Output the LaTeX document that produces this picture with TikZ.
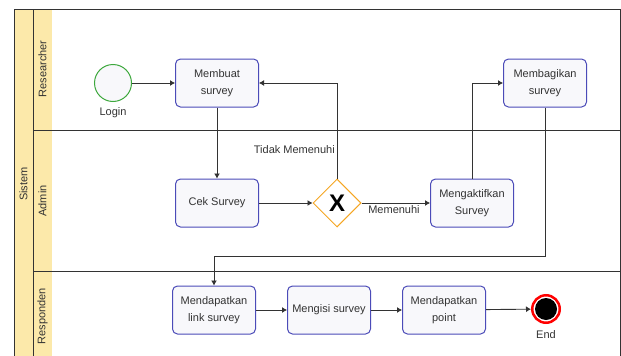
\documentclass[tikz,border=0pt]{standalone}
\usepackage{fontspec}
\setmainfont{Liberation Sans}
\usetikzlibrary{arrows.meta,shapes,positioning,calc}
\definecolor{lanefill}{HTML}{FCE9AA}
\definecolor{taskline}{HTML}{4B4BB8}
\definecolor{taskfill}{HTML}{F8F8FB}
\definecolor{ink}{HTML}{333333}
\definecolor{gwline}{HTML}{F5A623}
\definecolor{startline}{HTML}{3DA83D}

\begin{document}
\begin{tikzpicture}[x=1pt,y=-1pt,
  font=\fontsize{11}{17}\selectfont, text=ink,
  task/.style={draw=taskline, fill=taskfill, line width=1pt, rounded corners=5pt,
    minimum width=83pt, minimum height=48pt, align=center, inner sep=2pt},
  flow/.style={-{Latex[length=5pt,width=6pt]}, draw=ink, line width=0.9pt},
  lanelabel/.style={rotate=90, inner sep=0pt}]

\useasboundingbox (0,0) rectangle (621,356);

% pool and lanes
\fill[lanefill] (14,9) rectangle (52,362);
\draw[ink, line width=0.9pt] (14,9) rectangle (620,362);
\draw[ink, line width=0.9pt] (33,9) -- (33,362);
\draw[ink, line width=0.9pt] (33,130) -- (620,130);
\draw[ink, line width=0.9pt] (33,271) -- (620,271);

\node[lanelabel] (sistem) at (23.5,184) {Sistem};
\node[lanelabel] (res) at (42.5,69) {Researcher};
\node[lanelabel] (adm) at (42.5,201) {Admin};
\node[lanelabel] (resp) at (42.5,316) {Responden};

% researcher
\node[circle, draw=startline, fill=taskfill, line width=1pt, minimum size=37pt, inner sep=0pt] (login) at (113,83) {};
\node (loginlbl) at (113,113) {Login};
\node[task] (buat) at (217,83) {Membuat\\survey};
\node[task] (bagi) at (545,83) {Membagikan\\survey};

% admin
\node[task] (cek) at (217,203) {Cek Survey};
\node[diamond, draw=gwline, fill=white, line width=1pt, minimum size=48pt, inner sep=0pt] (gw) at (337,203) {\fontsize{24}{24}\selectfont\bfseries\color{black}X};
\node[task] (aktif) at (472,203) {Mengaktifkan\\Survey};

% responden
\node[task] (link) at (214,310) {Mendapatkan\\link survey};
\node[task] (isi) at (329,310) {Mengisi survey};
\node[task] (point) at (444,310) {Mendapatkan\\point};
\node[circle, draw=red, fill=white, line width=2.5pt, minimum size=27.5pt, inner sep=0pt] (fin) at (546,309) {};
\node[circle, fill=black, minimum size=22pt, inner sep=0pt] (fincore) at (fin) {};
\node (finlbl) at (546,335) {End};

\draw[flow] (login) -- (buat);
\draw[flow] (buat) -- (cek);
\draw[flow] (cek) -- (gw);
\draw[flow] (gw.north) |- (buat.east);
\node[anchor=east, inner sep=1pt] (tidak) at (336,150) {Tidak Memenuhi};
\draw[flow] (gw) -- (aktif);
\node (memenuhi) at (394,210) {Memenuhi};
\draw[flow] (aktif.north) |- (bagi.west);
\coordinate (turn) at (214,256);
\draw[flow] (bagi.south) |- (turn) -- (link.north);
\draw[flow] (link) -- (isi);
\draw[flow] (isi) -- (point);
\draw[flow] (point) -- (fin);

\end{tikzpicture}
\end{document}
